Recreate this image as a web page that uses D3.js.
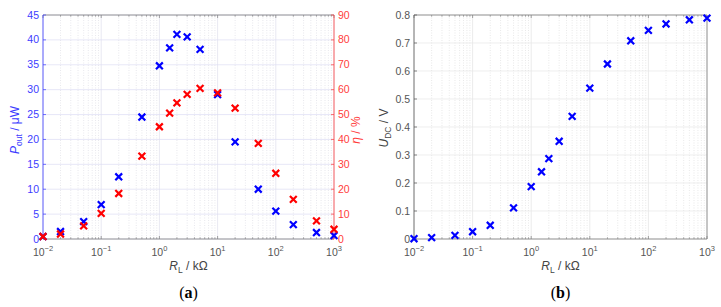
<!DOCTYPE html>
<html>
<head>
<meta charset="utf-8">
<title>RL sweep</title>
<script src="https://cdn.jsdelivr.net/npm/d3@7/dist/d3.min.js"></script>
<style>
  body{ margin:0; background:#fff; }
  svg{ font-family:"Liberation Sans", Arial, sans-serif; }
</style>
</head>
<body>
<div id="container"></div>
<script>
// load resistance in kOhm
var rLoad = [0.01, 0.02, 0.05, 0.1, 0.2, 0.5, 1, 1.5, 2, 3, 5, 10, 20, 50, 100, 200, 500, 1000];
// output power in uW
var pOut  = [0.5, 1.5, 3.5, 6.9, 12.5, 24.5, 34.8, 38.4, 41.1, 40.6, 38.1, 29.0, 19.5, 10.0, 5.6, 2.9, 1.3, 0.7];
// efficiency in %
var eta   = [1.0, 2.0, 5.3, 10.3, 18.3, 33.3, 45.1, 50.6, 54.7, 58.1, 60.5, 58.7, 52.6, 38.4, 26.4, 15.9, 7.3, 3.9];
// DC voltage in V
var uDC   = [0.001, 0.005, 0.013, 0.026, 0.049, 0.111, 0.187, 0.240, 0.287, 0.349, 0.438, 0.539, 0.625, 0.708, 0.745, 0.768, 0.783, 0.789];

var xTicks = [0.01, 0.1, 1, 10, 100, 1000];
var pTicks = d3.range(0, 46, 5);
var etaTicks = d3.range(0, 91, 10);
var uTicks = [0, 0.1, 0.2, 0.3, 0.4, 0.5, 0.6, 0.7, 0.8];

var W = 721, H = 307;
var svg = d3.select("#container").append("svg").attr("width", W).attr("height", H);

var yTop = 15, yBot = 239;
var minor = [];
for (var e = -2; e < 3; e++) for (var k = 2; k < 10; k++) minor.push(k * Math.pow(10, e));

function panel(x0, x1, gridV, gridMinor) {
  var g = svg.append("g");
  var xs = d3.scaleLog().domain([0.01, 1000]).range([x0, x1]);
  // minor vertical grid
  g.selectAll(null).data(minor).enter().append("line")
    .attr("x1", d => xs(d)).attr("x2", d => xs(d))
    .attr("y1", yTop).attr("y2", yBot)
    .attr("stroke", gridMinor).attr("stroke-width", 0.6).attr("stroke-dasharray", "1,1.5");
  // major vertical grid
  g.selectAll(null).data(xTicks).enter().append("line")
    .attr("x1", d => xs(d)).attr("x2", d => xs(d))
    .attr("y1", yTop).attr("y2", yBot)
    .attr("stroke", gridV).attr("stroke-width", 0.7);
  return {g: g, xs: xs};
}

function hGrid(g, ys, ticks, x0, x1, col) {
  g.selectAll(null).data(ticks).enter().append("line")
    .attr("x1", x0).attr("x2", x1)
    .attr("y1", d => ys(d)).attr("y2", d => ys(d))
    .attr("stroke", col).attr("stroke-width", 0.7);
}

function xAxisBits(g, xs, x0, x1) {
  // top and bottom edges
  [yTop, yBot].forEach(function(y) {
    g.append("line").attr("x1", x0).attr("x2", x1).attr("y1", y).attr("y2", y)
      .attr("stroke", "#7f7f7f").attr("stroke-width", 0.8);
    var dir = (y == yTop) ? 1 : -1;
    g.selectAll(null).data(minor).enter().append("line")
      .attr("x1", d => xs(d)).attr("x2", d => xs(d))
      .attr("y1", y).attr("y2", y + dir * 1.8)
      .attr("stroke", "#7f7f7f").attr("stroke-width", 0.6);
    g.selectAll(null).data(xTicks).enter().append("line")
      .attr("x1", d => xs(d)).attr("x2", d => xs(d))
      .attr("y1", y).attr("y2", y + dir * 3)
      .attr("stroke", "#7f7f7f").attr("stroke-width", 0.7);
  });
  var t = g.selectAll(null).data(xTicks).enter().append("text")
    .attr("x", d => xs(d)).attr("y", 255.5)
    .attr("text-anchor", "middle").attr("font-size", 10.5).attr("fill", "#555");
  t.append("tspan").text("10");
  t.append("tspan").attr("dy", -4.5).attr("font-size", 7.5)
    .text(d => String(Math.round(Math.log10(d))).replace("-", "\u2212"));
  var lab = g.append("text").attr("x", (x0 + x1) / 2).attr("y", 270)
    .attr("text-anchor", "middle").attr("font-size", 12).attr("fill", "#444");
  lab.append("tspan").attr("font-style", "italic").text("R");
  lab.append("tspan").attr("dy", 3).attr("font-size", 8.5).text("L");
  lab.append("tspan").attr("dy", -3).text(" / k\u03A9");
}

function yAxisBits(g, ys, ticks, x, side, col, fmt) {
  g.append("line").attr("x1", x).attr("x2", x).attr("y1", yTop).attr("y2", yBot)
    .attr("stroke", col).attr("stroke-width", 0.8);
  var dir = side == "left" ? 1 : -1;
  g.selectAll(null).data(ticks).enter().append("line")
    .attr("x1", x).attr("x2", x + dir * 3)
    .attr("y1", d => ys(d)).attr("y2", d => ys(d))
    .attr("stroke", col).attr("stroke-width", 0.7);
  g.selectAll(null).data(ticks).enter().append("text")
    .attr("x", side == "left" ? x - 4 : x + 4)
    .attr("y", d => ys(d) + 3.6)
    .attr("text-anchor", side == "left" ? "end" : "start")
    .attr("font-size", 10.5).attr("fill", col)
    .text(fmt);
}

function crosses(g, xs, ys, xv, yv, col) {
  var s = 3.4;
  var m = g.selectAll(null).data(xv).enter().append("g")
    .attr("transform", (d, i) => "translate(" + xs(d) + "," + ys(yv[i]) + ")");
  m.append("path").attr("d", "M" + (-s) + "," + (-s) + "L" + s + "," + s + "M" + (-s) + "," + s + "L" + s + "," + (-s))
    .attr("stroke", col).attr("stroke-width", 2.2).attr("fill", "none");
}

// ---------- panel (a)
var ax0 = 43, ax1 = 334;
var pa = panel(ax0, ax1, "#e0e0ec", "#d6d6e0");
var yP = d3.scaleLinear().domain([0, 45]).range([yBot, yTop]);
var yE = d3.scaleLinear().domain([0, 90]).range([yBot, yTop]);
hGrid(pa.g, yP, pTicks, ax0, ax1, "#dcdcf4");
xAxisBits(pa.g, pa.xs, ax0, ax1);
yAxisBits(pa.g, yP, pTicks, ax0, "left", "#3c3cff", d => d);
yAxisBits(pa.g, yE, etaTicks, ax1, "right", "#ff3c3c", d => d);
crosses(pa.g, pa.xs, yP, rLoad, pOut, "#0000ff");
crosses(pa.g, pa.xs, yE, rLoad, eta, "#ff0000");

var lp = pa.g.append("text").attr("transform", "translate(19,130) rotate(-90)")
  .attr("text-anchor", "middle").attr("font-size", 12).attr("fill", "#3c3cff");
lp.append("tspan").attr("font-style", "italic").text("P");
lp.append("tspan").attr("dy", 3).attr("font-size", 8.5).text("out");
lp.append("tspan").attr("dy", -3).text(" / \u03BCW");

var le = pa.g.append("text").attr("transform", "translate(360,130) rotate(-90)")
  .attr("text-anchor", "middle").attr("font-size", 12).attr("fill", "#ff3c3c");
le.append("tspan").attr("font-style", "italic").text("\u03B7");
le.append("tspan").text(" / %");

// ---------- panel (b)
var bx0 = 414, bx1 = 707;
var pb = panel(bx0, bx1, "#e3e3e3", "#dadada");
var yU = d3.scaleLinear().domain([0, 0.8]).range([yBot, yTop]);
hGrid(pb.g, yU, uTicks, bx0, bx1, "#e6e6e6");
xAxisBits(pb.g, pb.xs, bx0, bx1);
yAxisBits(pb.g, yU, uTicks, bx0, "left", "#555", d => d == 0 ? "0" : d3.format(".1f")(d));
pb.g.append("line").attr("x1", bx1).attr("x2", bx1).attr("y1", yTop).attr("y2", yBot)
  .attr("stroke", "#7f7f7f").attr("stroke-width", 0.8);
crosses(pb.g, pb.xs, yU, rLoad, uDC, "#0000ff");

var lu = pb.g.append("text").attr("transform", "translate(388,128) rotate(-90)")
  .attr("text-anchor", "middle").attr("font-size", 12).attr("fill", "#444");
lu.append("tspan").attr("font-style", "italic").text("U");
lu.append("tspan").attr("dy", 3).attr("font-size", 8.5).text("DC");
lu.append("tspan").attr("dy", -3).text(" / V");

// captions
[["a", (ax0 + ax1) / 2], ["b", (bx0 + bx1) / 2]].forEach(function(c) {
  var t = svg.append("text").attr("x", c[1]).attr("y", 298)
    .attr("text-anchor", "middle").attr("font-size", 16)
    .attr("font-family", "'Liberation Serif', 'Times New Roman', serif");
  t.append("tspan").text("(");
  t.append("tspan").attr("font-weight", "bold").text(c[0]);
  t.append("tspan").text(")");
});
</script>
</body>
</html>
